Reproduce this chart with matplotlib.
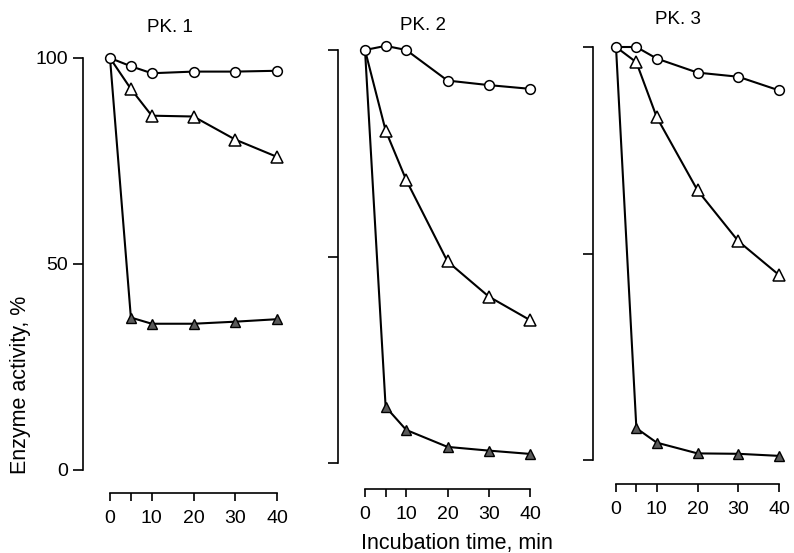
import matplotlib
matplotlib.use("Agg")
import matplotlib.pyplot as plt

plt.rcParams['font.family'] = ['Liberation Sans', 'DejaVu Sans']

# temps d'incubation (min)
temps = [0, 5, 10, 20, 30, 40]

titres = ["PK. 1", "PK. 2", "PK. 3"]

# activite enzymatique (%) - cercles ouverts
cercles = [
    [100, 98.0, 96.3, 96.7, 96.7, 96.9],
    [100, 101.0, 100.0, 92.6, 91.5, 90.6],
    [100, 100.0, 97.2, 93.8, 92.8, 89.5],
]
# triangles ouverts
triangles = [
    [100, 92.5, 86.0, 85.8, 80.2, 76.0],
    [100, 80.5, 68.5, 48.8, 40.3, 34.6],
    [100, 96.3, 83.0, 65.3, 53.0, 44.8],
]
# triangles pleins
triangles_pleins = [
    [100, 37.0, 35.5, 35.5, 36.0, 36.6],
    [100, 13.6, 8.0, 3.9, 3.0, 2.2],
    [100, 7.7, 4.2, 1.6, 1.5, 1.0],
]

xticks = [0, 5, 10, 20, 30, 40]
xlabels = ["0", "", "10", "20", "30", "40"]
yticks = [0, 50, 100]
ylabels = ["0", "50", "100"]

# position des panneaux en pixels : axe y, t=0, t=40, y=100, y=0, axe x
W, H = 794, 553
panneaux = [
    (83, 110, 277, 58, 470, 493),
    (338, 365, 530, 50, 463, 489),
    (593, 616, 779, 47, 460, 484),
]
# position des titres (pixels)
pos_titres = [(170, 27), (423, 25), (678, 20)]

fig = plt.figure(figsize=(W / 100, H / 100), dpi=100)

for i, (xs, x0, x40, y100, y0, xa) in enumerate(panneaux):
    k = (x40 - x0) / 40.0
    xmin = (xs - x0) / k
    xmax = 42
    xr = x0 + xmax * k
    ax = fig.add_axes([xs / W, (H - y0) / H, (xr - xs) / W, (y0 - y100) / H])
    ax.set_xlim(xmin, xmax)
    ax.set_ylim(0, 100)

    ax.plot(temps, triangles_pleins[i], '-', color='black', lw=1.5,
            marker='^', ms=7, mfc='#5a5a5a', mec='black', mew=1.0,
            markevery=slice(1, None), clip_on=False, zorder=3)
    ax.plot(temps, triangles[i], '-', color='black', lw=1.5,
            marker='^', ms=8, mfc='white', mec='black', mew=1.1,
            markevery=slice(1, None), clip_on=False, zorder=4)
    ax.plot(temps, cercles[i], '-', color='black', lw=1.5,
            marker='o', ms=7, mfc='white', mec='black', mew=1.1,
            clip_on=False, zorder=5)

    # axes
    for s in ['top', 'right']:
        ax.spines[s].set_visible(False)
    ax.spines['left'].set_bounds(0, 100)
    ax.spines['left'].set_linewidth(1.2)
    ax.spines['bottom'].set_bounds(0, 40)
    ax.spines['bottom'].set_linewidth(1.2)
    ax.spines['bottom'].set_position(('outward', (xa - y0) * 0.72))

    ax.set_yticks(yticks)
    if i == 0:
        ax.set_yticklabels(ylabels)
    else:
        ax.set_yticklabels([])
    ax.set_xticks(xticks)
    ax.set_xticklabels(xlabels)
    ax.tick_params(axis='y', length=7, width=1.2, pad=4, labelsize=14)
    ax.tick_params(axis='x', length=6, width=1.2, pad=6, labelsize=14)

    tx, ty = pos_titres[i]
    fig.text(tx / W, 1 - ty / H, titres[i], ha='center', va='center',
             fontsize=13.5)

fig.text(21 / W, 1 - 385 / H, "Enzyme activity, %", rotation=90,
         ha='center', va='center', fontsize=15.5)
fig.text(457 / W, 1 - 543 / H, "Incubation time, min",
         ha='center', va='center', fontsize=15.5)

fig.savefig("out.png", dpi=100)
